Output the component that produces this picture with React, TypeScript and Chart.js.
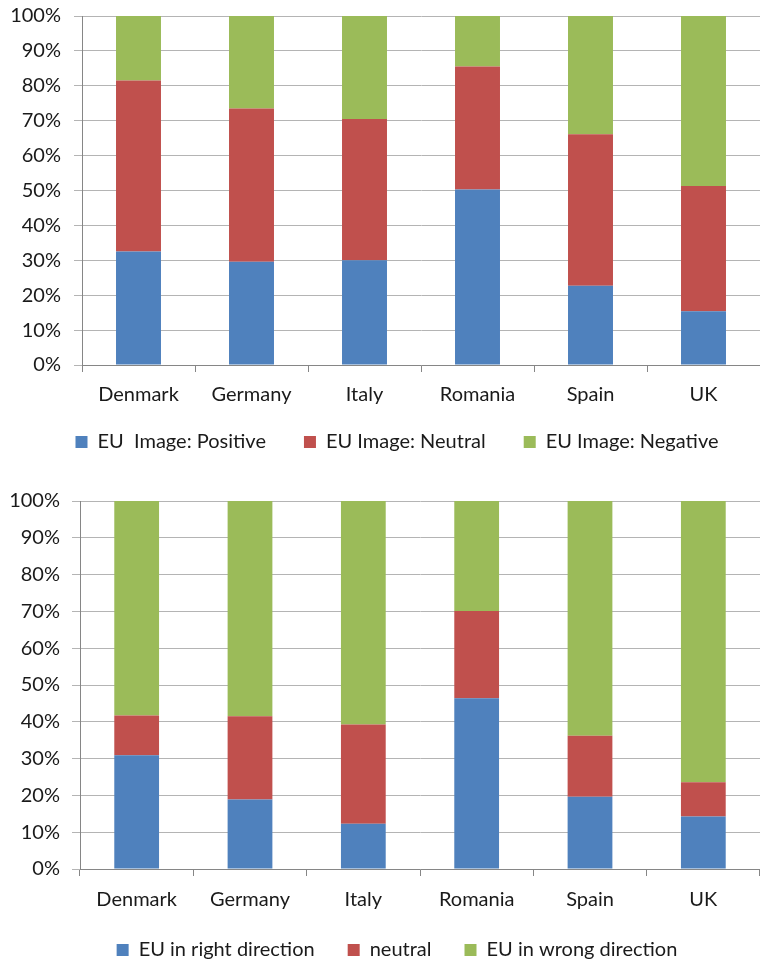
import React, { useEffect, useRef } from "react";
import { Chart, registerables } from "chart.js";

Chart.register(...registerables);

const countries = ["Denmark", "Germany", "Italy", "Romania", "Spain", "UK"];

const imageSeriesNames = ["EU  Image: Positive", "EU Image: Neutral", "EU Image: Negative"];
const imagePositive = [32.5, 29.6, 30.0, 50.3, 22.7, 15.4];
const imageNeutral = [49.0, 43.9, 40.5, 35.2, 43.4, 35.9];
const imageNegative = [18.5, 26.5, 29.5, 14.5, 33.9, 48.7];

const directionSeriesNames = ["EU in right direction", "neutral", "EU in wrong direction"];
const directionRight = [30.9, 18.9, 12.3, 46.4, 19.6, 14.3];
const directionNeutral = [10.8, 22.6, 27.0, 23.7, 16.6, 9.3];
const directionWrong = [58.3, 58.5, 60.7, 29.9, 63.8, 76.4];

const seriesColors = ["#4F81BD", "#C0504D", "#9BBB59"];

const FONT = "Lato, 'Open Sans', sans-serif";
const FS = 20;
const TEXT = "#1a1a1a";
const GRID = "#b4b4b4";
const AXIS = "#868686";

type Props = {
  top: number;
  height: number;
  names: string[];
  series: number[][];
  padTop: number;
  yWidth: number;
  xHeight: number;
  xPad: number;
  yPad: number;
  legendPad: number;
  barPct: number;
};

function StackChart(p: Props) {
  const ref = useRef<HTMLCanvasElement | null>(null);
  useEffect(() => {
    if (!ref.current) return;
    const chart = new Chart(ref.current, {
      type: "bar",
      data: {
        labels: countries,
        datasets: p.series.map((d, i) => ({
          label: p.names[i],
          data: d,
          backgroundColor: seriesColors[i],
          borderWidth: 0,
          categoryPercentage: p.barPct,
          barPercentage: 1,
        })),
      },
      options: {
        animation: false,
        responsive: false,
        maintainAspectRatio: false,
        layout: { padding: { top: p.padTop, left: 32, right: -2, bottom: 0 } },
        plugins: {
          tooltip: { enabled: false },
          legend: {
            position: "bottom",
            labels: {
              boxWidth: 12,
              boxHeight: 12,
              padding: p.legendPad,
              color: TEXT,
              font: { family: FONT, size: FS },
            },
          },
        },
        scales: {
          x: {
            stacked: true,
            afterFit: (s: any) => {
              s.height = p.xHeight;
              s.paddingLeft = 0;
              s.paddingRight = 0;
              s._computeLabelArea = () => undefined;
            },
            grid: {
              display: true,
              drawOnChartArea: false,
              drawTicks: true,
              offset: true,
              tickLength: 7,
              color: AXIS,
              tickColor: AXIS,
            },
            border: { display: true, color: AXIS },
            ticks: {
              color: TEXT,
              padding: p.xPad,
              font: { family: FONT, size: FS },
              maxRotation: 0,
            },
          },
          y: {
            stacked: true,
            min: 0,
            max: 100,
            afterFit: (s: any) => {
              s.width = p.yWidth;
              s.paddingTop = 0;
              s.paddingBottom = 0;
              s._computeLabelArea = () => undefined;
            },
            grid: {
              color: GRID,
              tickColor: GRID,
              tickLength: 8,
              drawTicks: true,
            },
            border: { display: true, color: AXIS },
            ticks: {
              stepSize: 10,
              color: TEXT,
              padding: p.yPad,
              font: { family: FONT, size: FS },
              callback: (v: any) => v + "%",
            },
          },
        },
      },
    });
    return () => chart.destroy();
  }, []);
  return (
    <canvas
      ref={ref}
      width={760}
      height={p.height}
      style={{ position: "absolute", left: 0, top: p.top, width: 760, height: p.height }}
    />
  );
}

export default function App() {
  return (
    <div
      style={{
        position: "fixed",
        left: 0,
        top: 0,
        width: 760,
        height: 962,
        overflow: "hidden",
        background: "#fff",
      }}
    >
      <StackChart
        top={0}
        height={462}
        names={imageSeriesNames}
        series={[imagePositive, imageNeutral, imageNegative]}
        padTop={16}
        yWidth={50}
        xHeight={29}
        xPad={11}
        yPad={13}
        legendPad={38}
        barPct={0.398}
      />
      <StackChart
        top={482}
        height={488}
        names={directionSeriesNames}
        series={[directionRight, directionNeutral, directionWrong]}
        padTop={19}
        yWidth={48}
        xHeight={38}
        xPad={12}
        yPad={12}
        legendPad={33}
        barPct={0.395}
      />
    </div>
  );
}
